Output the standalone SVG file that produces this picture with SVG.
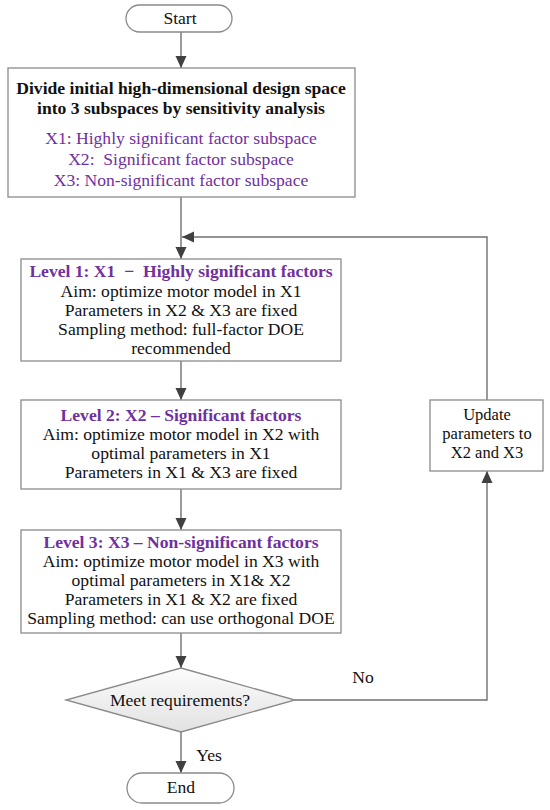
<svg xmlns="http://www.w3.org/2000/svg" width="550" height="810" viewBox="0 0 550 810">
<defs>
<style>
text{font-family:"Liberation Serif","Times New Roman",serif;font-size:17.6px;fill:#111;text-anchor:middle}
.b{font-weight:bold}
.p{fill:#7030a0}
.s{font-size:16.5px}
.box{fill:#fff;stroke:#8a8a8a;stroke-width:1.3}
.con{fill:none;stroke:#707070;stroke-width:1.4}
</style>
<marker id="ah" markerUnits="userSpaceOnUse" markerWidth="12" markerHeight="12" viewBox="0 0 12 12" refX="12" refY="6" orient="auto">
<path d="M0,0.5 L12,6 L0,11.5 z" fill="#404040"/>
</marker>
<linearGradient id="dg" x1="0" y1="0" x2="0" y2="1">
<stop offset="0" stop-color="#fcfcfc"/>
<stop offset="1" stop-color="#e2e2e2"/>
</linearGradient>
</defs>
<g id="connectors">
<path class="con" d="M181,32 V68" marker-end="url(#ah)"/>
<path class="con" d="M181,197 V259" marker-end="url(#ah)"/>
<path class="con" d="M181,361 V400" marker-end="url(#ah)"/>
<path class="con" d="M181,489 V530" marker-end="url(#ah)"/>
<path class="con" d="M181,622 V668" marker-end="url(#ah)"/>
<path class="con" d="M181,731 V773" marker-end="url(#ah)"/>
<path class="con" d="M295,700 H487 V471" marker-end="url(#ah)"/>
<path class="con" d="M487,400 V237 H182" marker-end="url(#ah)"/>
</g>
<g id="start">
<rect class="box" x="126" y="5" width="106" height="27" rx="13.5"/>
<text x="180" y="24">Start</text>
</g>
<g id="divide">
<rect class="box" x="8" y="68" width="347" height="129"/>
<text class="b" x="181" y="94">Divide initial high-dimensional design space</text>
<text class="b" x="181" y="114">into 3 subspaces by sensitivity analysis</text>
<text class="p" x="181" y="144">X1: Highly significant factor subspace</text>
<text class="p" x="181" y="165" xml:space="preserve">X2:  Significant factor subspace</text>
<text class="p" x="181" y="186">X3: Non-significant factor subspace</text>
</g>
<g id="level1">
<rect class="box" x="21" y="259" width="320" height="102"/>
<text class="b p" x="181" y="277" xml:space="preserve">Level 1: X1  −  Highly significant factors</text>
<text x="181" y="297">Aim: optimize motor model in X1</text>
<text x="181" y="316">Parameters in X2 &amp; X3 are fixed</text>
<text x="181" y="335">Sampling method: full-factor DOE</text>
<text x="181" y="354">recommended</text>
</g>
<g id="level2">
<rect class="box" x="21" y="400" width="320" height="89"/>
<text class="b p" x="181" y="421">Level 2: X2 – Significant factors</text>
<text x="181" y="440">Aim: optimize motor model in X2 with</text>
<text x="181" y="459">optimal parameters in X1</text>
<text x="181" y="478">Parameters in X1 &amp; X3 are fixed</text>
</g>
<g id="level3">
<rect class="box" x="21" y="530" width="320" height="103"/>
<text class="b p" x="181" y="548">Level 3: X3 – Non-significant factors</text>
<text x="181" y="567">Aim: optimize motor model in X3 with</text>
<text x="181" y="586">optimal parameters in X1&amp; X2</text>
<text x="181" y="605">Parameters in X1 &amp; X2 are fixed</text>
<text x="181" y="624">Sampling method: can use orthogonal DOE</text>
</g>
<g id="decision">
<polygon points="181,668 295,700 181,732 66,700" fill="url(#dg)" stroke="#8a8a8a" stroke-width="1.3"/>
<text x="180" y="706">Meet requirements?</text>
</g>
<g id="update">
<rect class="box" x="430" y="400" width="113" height="71"/>
<text class="s" x="487" y="420">Update</text>
<text class="s" x="487" y="439">parameters to</text>
<text class="s" x="487" y="458">X2 and X3</text>
</g>
<g id="end">
<rect class="box" x="127" y="773" width="107" height="30" rx="15"/>
<text x="181" y="793">End</text>
</g>
<g id="labels">
<text x="363" y="683">No</text>
<text x="209" y="761">Yes</text>
</g>
</svg>
